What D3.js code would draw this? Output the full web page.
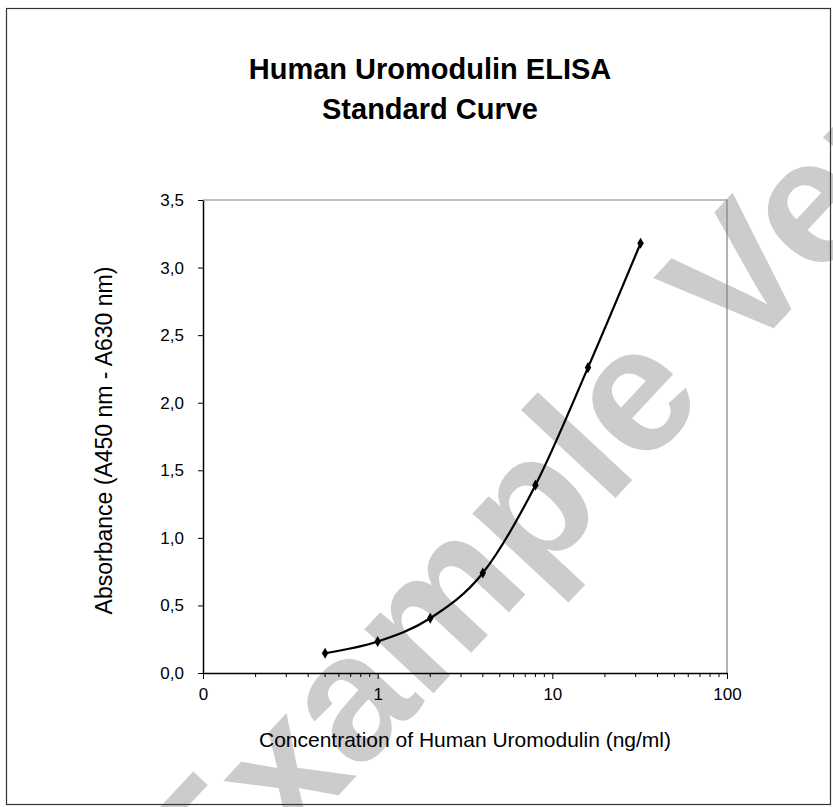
<!DOCTYPE html>
<html>
<head>
<meta charset="utf-8">
<script src="https://cdn.jsdelivr.net/npm/d3@7"></script>
<style>
  body { margin: 0; background: #fff; }
  svg { display: block; font-family: "Liberation Sans", Arial, sans-serif; }
</style>
</head>
<body>
<div id="chart"></div>
<script>
// data
const concentrations = [0.5, 1, 2, 4, 8, 16, 32];
const absorbance = [0.146, 0.233, 0.405, 0.74, 1.39, 2.26, 3.18];
const xTicks = [0.1, 1, 10, 100];
const xTickLabels = ["0", "1", "10", "100"];
const yTicks = [0, 0.5, 1, 1.5, 2, 2.5, 3, 3.5];
const titleLines = ["Human Uromodulin ELISA", "Standard Curve"];
const xTitle = "Concentration of Human Uromodulin (ng/ml)";
const yTitle = "Absorbance (A450 nm - A630 nm)";
const watermark = "Example Version";

const width = 833, height = 807;
const plot = { left: 203, right: 727, top: 200, bottom: 673 };

const svg = d3.select("#chart").append("svg")
  .attr("width", width)
  .attr("height", height);

// watermark sits behind everything
svg.append("text")
  .attr("transform", "translate(209,934) rotate(-47)")
  .attr("font-size", 178)
  .attr("font-weight", "bold")
  .attr("fill", "#cccccc")
  .text(watermark);

// outer frame
svg.append("rect")
  .attr("x", 6.5).attr("y", 8.5)
  .attr("width", 824).attr("height", 796)
  .attr("fill", "none")
  .attr("stroke", "#333")
  .attr("stroke-width", 1.2);

const x = d3.scaleLog().domain([0.1, 100]).range([plot.left, plot.right]);
const y = d3.scaleLinear().domain([0, 3.5]).range([plot.bottom, plot.top]);

// plot area border (top and right in grey)
svg.append("path")
  .attr("d", `M${plot.left},${plot.top}H${plot.right}V${plot.bottom}`)
  .attr("fill", "none")
  .attr("stroke", "#808080")
  .attr("stroke-width", 1.2);

// minor ticks on log axis
const minorTicks = [];
[0.1, 1, 10].forEach((d) => {
  for (let k = 2; k <= 9; k++) minorTicks.push(d * k);
});
svg.append("g")
  .selectAll("line")
  .data(minorTicks)
  .join("line")
  .attr("x1", (d) => x(d)).attr("x2", (d) => x(d))
  .attr("y1", plot.bottom).attr("y2", plot.bottom + 4)
  .attr("stroke", "#000")
  .attr("stroke-width", 1);

const xAxis = svg.append("g")
  .attr("transform", `translate(0,${plot.bottom})`)
  .call(
    d3.axisBottom(x)
      .tickValues(xTicks)
      .tickFormat((d, i) => xTickLabels[i])
      .tickSize(6)
      .tickSizeOuter(0)
      .tickPadding(9)
  );

const commaLocale = d3.formatLocale({ decimal: ",", thousands: ".", grouping: [3], currency: ["", ""] });
const yAxis = svg.append("g")
  .attr("transform", `translate(${plot.left},0)`)
  .call(
    d3.axisLeft(y)
      .tickValues(yTicks)
      .tickFormat(commaLocale.format(".1f"))
      .tickSize(5)
      .tickSizeOuter(0)
      .tickPadding(14)
  );

[xAxis, yAxis].forEach((g) => {
  g.select(".domain").attr("stroke", "#000").attr("stroke-width", 1.5);
  g.selectAll(".tick line").attr("stroke", "#000").attr("stroke-width", 1);
  g.selectAll(".tick text")
    .attr("font-family", "'Liberation Sans', Arial, sans-serif")
    .attr("font-size", 17)
    .attr("fill", "#000");
});

// smoothed curve like a spreadsheet chart
const points = concentrations.map((c, i) => [c, absorbance[i]]);
const line = d3.line()
  .x((d) => x(d[0]))
  .y((d) => y(d[1]))
  .curve(d3.curveCardinal.tension(0));

svg.append("path")
  .datum(points)
  .attr("d", line)
  .attr("fill", "none")
  .attr("stroke", "#000")
  .attr("stroke-width", 2.2);

svg.append("g")
  .selectAll("path")
  .data(points)
  .join("path")
  .attr("transform", (d) => `translate(${x(d[0])},${y(d[1])})`)
  .attr("d", d3.symbol(d3.symbolDiamond, 36))
  .attr("fill", "#000");

// titles
svg.append("g")
  .selectAll("text")
  .data(titleLines)
  .join("text")
  .attr("x", 430)
  .attr("y", (d, i) => 79 + i * 40)
  .attr("text-anchor", "middle")
  .attr("font-size", 29)
  .attr("font-weight", "bold")
  .text((d) => d);

svg.append("text")
  .attr("x", (plot.left + plot.right) / 2)
  .attr("y", 747)
  .attr("text-anchor", "middle")
  .attr("font-size", 21)
  .text(xTitle);

svg.append("text")
  .attr("transform", `translate(112,${(plot.top + plot.bottom) / 2 + 4}) rotate(-90)`)
  .attr("text-anchor", "middle")
  .attr("font-size", 23)
  .text(yTitle);
</script>
</body>
</html>
